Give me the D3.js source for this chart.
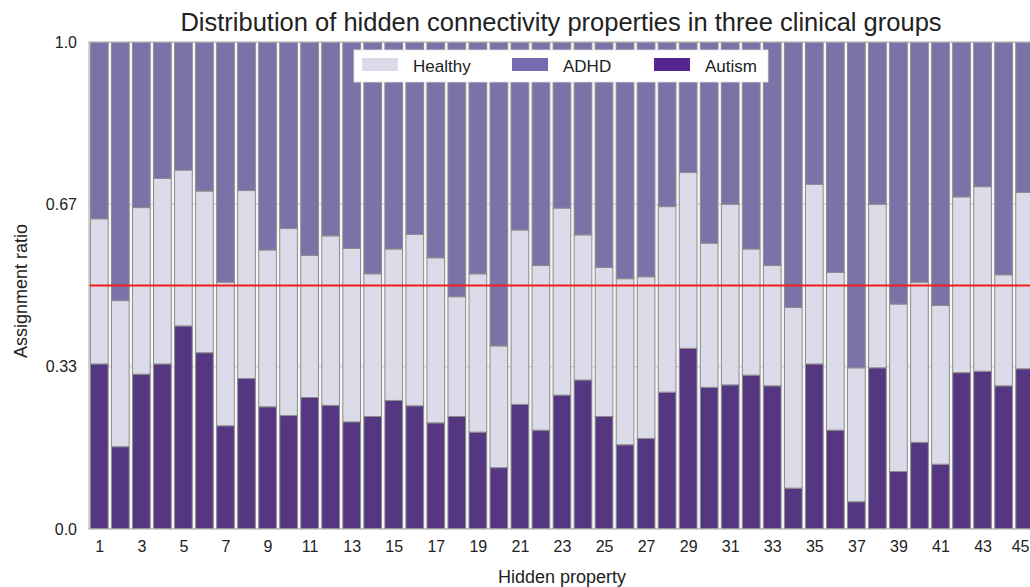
<!DOCTYPE html>
<html>
<head>
<meta charset="utf-8">
<script src="https://cdn.jsdelivr.net/npm/d3@7"></script>
<style>
  html, body { margin: 0; padding: 0; background: #ffffff; }
  svg { display: block; font-family: "Liberation Sans", Arial, sans-serif; }
</style>
</head>
<body>
<svg id="chart" width="1030" height="587"></svg>
<script>
// ---- data ----
const properties = d3.range(1, 46);
const seriesNames = ["Autism", "Healthy", "ADHD"];
const autism = [0.339,0.169,0.318,0.339,0.417,0.362,0.212,0.309,0.251,0.233,0.270,0.254,0.220,0.231,0.264,0.253,0.218,0.231,0.199,0.126,0.256,0.203,0.275,0.306,0.231,0.173,0.186,0.281,0.371,0.291,0.296,0.316,0.294,0.084,0.339,0.203,0.056,0.331,0.118,0.178,0.133,0.321,0.324,0.294,0.329];
const healthy = [0.298,0.300,0.342,0.381,0.320,0.332,0.295,0.386,0.322,0.384,0.292,0.348,0.356,0.293,0.311,0.352,0.339,0.246,0.325,0.250,0.358,0.338,0.384,0.298,0.306,0.341,0.332,0.381,0.361,0.296,0.371,0.259,0.247,0.371,0.369,0.324,0.275,0.336,0.344,0.329,0.326,0.361,0.379,0.228,0.362];
const adhd = [0.363,0.531,0.340,0.280,0.263,0.306,0.493,0.305,0.427,0.383,0.438,0.398,0.424,0.476,0.425,0.395,0.443,0.523,0.476,0.624,0.386,0.459,0.341,0.396,0.463,0.486,0.482,0.338,0.268,0.413,0.333,0.425,0.459,0.545,0.292,0.473,0.669,0.333,0.538,0.493,0.541,0.318,0.297,0.478,0.309];
const yTickValues = [0, 1/3, 2/3, 1];
const yTickLabels = ["0.0", "0.33", "0.67", "1.0"];
const xTickValues = d3.range(1, 46, 2);
const referenceLine = 0.5;
const legendOrder = ["Healthy", "ADHD", "Autism"];

// ---- styles ----
const barColors = { Autism: "#553681", Healthy: "#dcdbe9", ADHD: "#7a73a8" };
const legendColors = { Autism: "#54278f", Healthy: "#dadaeb", ADHD: "#756bb1" };

const svg = d3.select("#chart");
const plot = { left: 89, top: 42, right: 1045, bottom: 529 };

const rows = properties.map((p, i) => ({ p, Autism: autism[i], Healthy: healthy[i], ADHD: adhd[i] }));
const stack = d3.stack().keys(seriesNames)(rows);

const x = d3.scaleLinear().domain([1, 45]).range([99.3, 99.3 + 44 * 21.03]);
const y = d3.scaleLinear().domain([0, 1]).range([plot.bottom, plot.top]);
const bw = 21.03 * 0.84;

svg.append("defs").append("clipPath").attr("id", "clip")
  .append("rect").attr("x", plot.left).attr("y", plot.top)
  .attr("width", plot.right - plot.left).attr("height", plot.bottom - plot.top);

// background
svg.append("rect").attr("x", plot.left).attr("y", plot.top)
  .attr("width", plot.right - plot.left).attr("height", plot.bottom - plot.top)
  .attr("fill", "#f6f6f6");

const g = svg.append("g").attr("clip-path", "url(#clip)");

// grid lines
g.selectAll("line.grid").data(yTickValues).join("line")
  .attr("x1", plot.left).attr("x2", plot.right)
  .attr("y1", d => y(d)).attr("y2", d => y(d))
  .attr("stroke", "#c8c8c8").attr("stroke-width", 1);

// bars
g.selectAll("g.layer").data(stack).join("g")
  .attr("fill", d => barColors[d.key])
  .selectAll("rect").data(d => d).join("rect")
  .attr("x", d => x(d.data.p) - bw / 2)
  .attr("width", bw)
  .attr("y", d => y(d[1]))
  .attr("height", d => y(d[0]) - y(d[1]))
  .attr("stroke", "#8c8c8c").attr("stroke-width", 1);

// reference line
g.append("line")
  .attr("x1", plot.left).attr("x2", plot.right)
  .attr("y1", y(referenceLine)).attr("y2", y(referenceLine))
  .attr("stroke", "#f41c1c").attr("stroke-width", 1.8);

// frame
svg.append("rect").attr("x", plot.left).attr("y", plot.top)
  .attr("width", plot.right - plot.left).attr("height", plot.bottom - plot.top)
  .attr("fill", "none").attr("stroke", "#b5b5b5").attr("stroke-width", 1.2);

// y axis
const yAxis = d3.axisLeft(y).tickValues(yTickValues)
  .tickFormat((d, i) => yTickLabels[i]).tickSize(0).tickPadding(12);
const ya = svg.append("g").attr("transform", `translate(${plot.left},0)`).call(yAxis);
ya.select(".domain").remove();
ya.selectAll("text").attr("font-size", 16).attr("fill", "#222")
  .attr("font-family", "'Liberation Sans', Arial, sans-serif");

// x axis
const xAxis = d3.axisBottom(x).tickValues(xTickValues).tickFormat(d3.format("d"))
  .tickSize(0).tickPadding(12);
const xa = svg.append("g").attr("transform", `translate(0,${plot.bottom})`).call(xAxis);
xa.select(".domain").remove();
xa.selectAll("text").attr("font-size", 16).attr("fill", "#222")
  .attr("font-family", "'Liberation Sans', Arial, sans-serif");
// keep the last label inside the picture
xa.selectAll(".tick").filter(d => d === 45).select("text")
  .attr("text-anchor", "end").attr("x", 1029 - x(45));

// title & labels
svg.append("text").attr("x", 561).attr("y", 31).attr("text-anchor", "middle")
  .attr("font-size", 25.5).attr("fill", "#222")
  .text("Distribution of hidden connectivity properties in three clinical groups");
svg.append("text").attr("x", 562).attr("y", 583).attr("text-anchor", "middle")
  .attr("font-size", 18).attr("fill", "#222").text("Hidden property");
svg.append("text").attr("transform", "translate(27,291) rotate(-90)")
  .attr("text-anchor", "middle").attr("font-size", 18).attr("fill", "#222")
  .text("Assignment ratio");

// legend
const lg = svg.append("g");
lg.append("rect").attr("x", 354).attr("y", 50).attr("width", 414).attr("height", 32)
  .attr("fill", "#ffffff").attr("stroke", "#e4e4e4").attr("stroke-width", 0.8);
const legendX = { Healthy: 362, ADHD: 512, Autism: 654 };
legendOrder.forEach(k => {
  lg.append("rect").attr("x", legendX[k]).attr("y", 58).attr("width", 36).attr("height", 13)
    .attr("fill", legendColors[k]);
  lg.append("text").attr("x", legendX[k] + 51).attr("y", 72).attr("font-size", 17)
    .attr("fill", "#222").text(k);
});
</script>
</body>
</html>
